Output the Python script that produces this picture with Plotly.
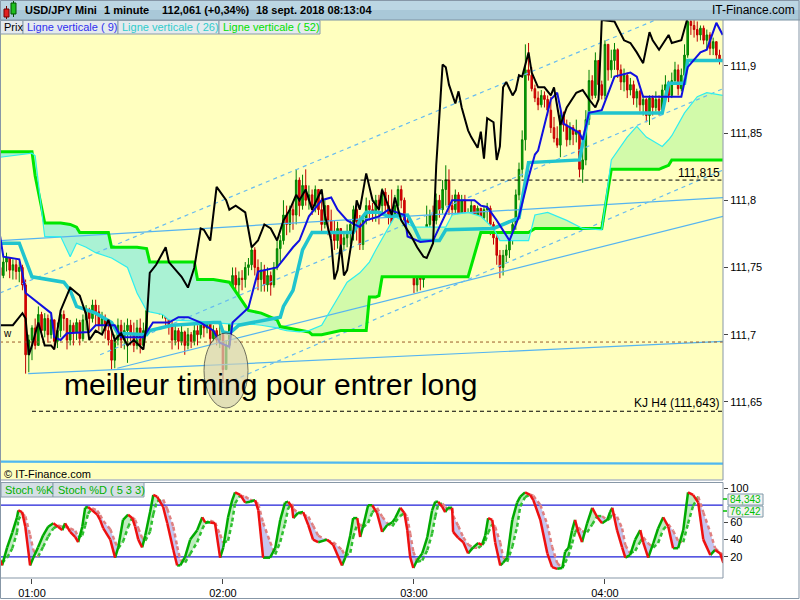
import numpy as np
import pandas as pd
import plotly.graph_objects as go

W, H = 800, 600
T0 = pd.Timestamp("2018-09-18 00:50:00")

# ---------------- data ----------------
# 1-minute candles starting 00:50 (index = minute offset)
OPEN_FIRST = 111.750
CLOSE = [111.744,111.754,111.757,111.748,111.752,111.747,111.750,111.737,111.685,111.696,
111.705,111.692,111.715,111.703,111.712,111.700,111.711,111.695,111.703,111.715,
111.712,111.696,111.707,111.702,111.709,111.697,111.711,111.717,111.712,111.722,
111.717,111.707,111.712,111.703,111.696,111.681,111.696,111.707,111.696,111.703,
111.707,111.700,111.692,111.705,111.692,111.703,111.718,111.729,111.722,111.726,
111.718,111.724,111.712,111.707,111.696,111.703,111.695,111.702,111.692,111.700,
111.695,111.703,111.700,111.711,111.705,111.712,111.697,111.703,111.696,111.700,
111.674,111.692,111.722,111.744,111.737,111.742,111.741,111.750,111.752,111.763,
111.750,111.741,111.748,111.737,111.744,111.737,111.750,111.764,111.770,111.789,
111.782,111.793,111.789,111.815,111.796,111.811,111.800,111.804,111.796,111.808,
111.793,111.782,111.796,111.785,111.776,111.770,111.779,111.767,111.772,111.776,
111.782,111.793,111.784,111.767,111.785,111.796,111.793,111.791,111.800,111.796,
111.806,111.796,111.789,111.782,111.796,111.808,111.800,111.785,111.770,111.752,
111.737,111.748,111.741,111.750,111.782,111.789,111.785,111.800,111.793,111.808,
111.815,111.796,111.793,111.804,111.789,111.800,111.785,111.789,111.796,111.789,
111.794,111.787,111.793,111.794,111.782,111.772,111.759,111.750,111.759,111.763,
111.770,111.782,111.804,111.823,111.845,111.897,111.893,111.883,111.876,111.871,
111.878,111.875,111.867,111.854,111.846,111.841,111.863,111.856,111.845,111.854,
111.849,111.852,111.823,111.830,111.860,111.889,111.878,111.904,111.886,111.878,
111.916,111.897,111.904,111.912,111.897,111.888,111.893,111.882,111.886,111.876,
111.881,111.871,111.875,111.863,111.876,111.869,111.875,111.867,111.882,111.886,
111.878,111.889,111.897,111.883,111.893,111.908,111.933,111.930,111.927,111.923,
111.928,111.919,111.923,111.913,111.918,111.908,111.904]
HIGH = [111.759,111.759,111.761,111.757,111.756,111.756,111.754,111.752,111.741,111.700,
111.707,111.712,111.721,111.717,111.716,111.715,111.715,111.711,111.709,111.718,
111.718,111.712,111.711,111.709,111.712,111.711,111.715,111.722,111.720,111.726,
111.726,111.722,111.717,111.715,111.709,111.707,111.700,111.712,111.711,111.709,
111.712,111.711,111.709,111.711,111.712,111.709,111.726,111.738,111.737,111.731,
111.728,111.729,111.727,111.717,111.711,111.707,111.705,111.707,111.703,111.705,
111.702,111.709,111.707,111.718,111.715,111.718,111.718,111.707,111.705,111.707,
111.703,111.696,111.726,111.750,111.750,111.747,111.748,111.754,111.757,111.767,
111.765,111.756,111.754,111.752,111.750,111.747,111.754,111.770,111.774,111.800,
111.796,111.796,111.798,111.823,111.817,111.819,111.823,111.811,111.808,111.811,
111.808,111.802,111.800,111.796,111.793,111.785,111.784,111.778,111.776,111.782,
111.785,111.796,111.796,111.789,111.789,111.802,111.800,111.798,111.804,111.804,
111.809,111.809,111.804,111.808,111.804,111.811,111.811,111.802,111.787,111.778,
111.759,111.752,111.750,111.752,111.796,111.793,111.796,111.805,111.804,111.815,
111.826,111.823,111.804,111.808,111.806,111.804,111.804,111.794,111.800,111.796,
111.796,111.793,111.796,111.798,111.796,111.784,111.774,111.763,111.763,111.767,
111.774,111.785,111.808,111.828,111.852,111.916,111.917,111.899,111.886,111.881,
111.882,111.881,111.878,111.877,111.862,111.855,111.867,111.866,111.860,111.858,
111.856,111.860,111.849,111.837,111.867,111.897,111.893,111.910,111.901,111.889,
111.919,111.916,111.912,111.917,111.913,111.901,111.898,111.895,111.891,111.889,
111.883,111.882,111.878,111.876,111.878,111.878,111.881,111.878,111.886,111.893,
111.889,111.895,111.903,111.901,111.898,111.916,111.934,111.934,111.934,111.933,
111.930,111.930,111.927,111.925,111.921,111.918,111.912]
LOW = [111.733,111.742,111.747,111.742,111.741,111.741,111.739,111.733,111.671,111.672,
111.681,111.689,111.696,111.698,111.698,111.694,111.697,111.689,111.690,111.698,
111.703,111.689,111.692,111.692,111.696,111.692,111.695,111.703,111.703,111.709,
111.707,111.703,111.700,111.697,111.692,111.674,111.675,111.692,111.690,111.689,
111.679,111.692,111.687,111.689,111.686,111.689,111.700,111.717,111.718,111.717,
111.715,111.712,111.707,111.700,111.689,111.692,111.689,111.692,111.685,111.689,
111.690,111.692,111.692,111.697,111.698,111.701,111.692,111.695,111.692,111.690,
111.664,111.677,111.689,111.720,111.732,111.729,111.733,111.735,111.744,111.748,
111.744,111.733,111.732,111.732,111.732,111.729,111.735,111.748,111.754,111.767,
111.774,111.776,111.778,111.782,111.788,111.793,111.796,111.793,111.789,111.791,
111.789,111.776,111.779,111.774,111.772,111.763,111.764,111.761,111.763,111.765,
111.767,111.770,111.770,111.763,111.763,111.782,111.785,111.784,111.784,111.782,
111.789,111.791,111.782,111.778,111.779,111.789,111.794,111.774,111.763,111.744,
111.731,111.732,111.733,111.735,111.744,111.770,111.776,111.782,111.787,111.790,
111.796,111.789,111.787,111.789,111.782,111.787,111.778,111.778,111.782,111.784,
111.784,111.779,111.782,111.778,111.774,111.767,111.752,111.742,111.744,111.754,
111.757,111.767,111.778,111.800,111.817,111.837,111.889,111.881,111.873,111.867,
111.869,111.869,111.863,111.850,111.843,111.839,111.832,111.851,111.840,111.841,
111.841,111.843,111.817,111.813,111.826,111.856,111.875,111.876,111.878,111.875,
111.875,111.889,111.891,111.897,111.891,111.882,111.881,111.876,111.878,111.871,
111.869,111.866,111.863,111.858,111.856,111.863,111.866,111.863,111.866,111.876,
111.873,111.876,111.886,111.878,111.881,111.889,111.906,111.923,111.921,111.918,
111.919,111.916,111.913,111.908,111.908,111.903,111.901]

# Ichimoku cloud (minute offsets, Senkou A thin cyan, Senkou B green 52)
CLOUD_T = [0,10,11,14,19,22,24,25,27,30,34,35,40,43,46,47,51,53,61,62,
           67,72,78,82,87,88,90,94,97,98,101,107,109,113,115,116,118,119,120,123,
           124,130,140,142,147,151,155,157,166,168,172,178,183,189,192,197,200,203,207,208,
           210,211,215,219,222,227]
SENKOU_B = [111.836,111.836,111.818,111.783,111.783,111.782,111.780,111.776,111.776,111.776,
            111.776,111.765,111.765,111.765,111.764,111.754,111.754,111.754,111.754,111.741,
            111.741,111.739,111.718,111.716,111.711,111.706,111.705,111.703,111.702,111.700,
            111.700,111.703,111.703,111.703,111.703,111.728,111.728,111.729,111.743,111.743,
            111.743,111.743,111.743,111.743,111.743,111.776,111.776,111.776,111.776,111.779,
            111.779,111.779,111.779,111.779,111.823,111.823,111.823,111.823,111.823,111.824,
            111.826,111.830,111.830,111.830,111.830,111.830]
SENKOU_A = [111.832,111.835,111.833,111.773,111.773,111.758,111.768,111.767,111.765,111.761,
            111.758,111.757,111.750,111.731,111.718,111.717,111.715,111.711,111.710,111.710,
            111.709,111.708,111.708,111.707,111.705,111.704,111.703,111.702,111.703,111.704,
            111.707,111.731,111.739,111.746,111.751,111.754,111.763,111.767,111.772,111.784,
            111.788,111.780,111.780,111.789,111.791,111.788,111.779,111.770,111.770,111.789,
            111.791,111.785,111.779,111.778,111.830,111.847,111.855,111.847,111.841,111.840,
            111.845,111.848,111.865,111.877,111.880,111.878]

TENKAN_T = [0,1,6,7,8,16,17,19,21,28,30,36,38,45,48,53,56,59,63,67,
            69,72,73,78,81,87,89,92,94,97,101,104,106,109,113,115,119,122,127,128,
            132,136,138,142,149,151,153,156,160,163,166,168,169,173,175,177,182,183,185,189,
            193,198,200,202,214,216,220,222,225,227]
TENKAN = [111.773,111.758,111.756,111.746,111.731,111.716,111.698,111.696,111.701,111.702,
          111.707,111.707,111.698,111.698,111.709,111.709,111.713,111.713,111.709,111.703,
          111.694,111.691,111.709,111.720,111.747,111.750,111.756,111.765,111.770,111.788,
          111.800,111.802,111.793,111.785,111.780,111.785,111.788,111.793,111.789,111.773,
          111.769,111.770,111.780,111.800,111.800,111.796,111.795,111.785,111.770,111.788,
          111.817,111.834,111.837,111.875,111.880,111.857,111.850,111.845,111.865,111.867,
          111.892,111.895,111.892,111.877,111.877,111.899,111.910,111.912,111.932,111.923]

KIJUN_T = [0,6,10,20,22,24,30,32,35,37,46,47,54,67,69,70,72,75,88,89,
           92,95,98,111,113,115,119,122,128,130,132,138,140,155,161,163,166,182,185,208,
           210,215,216,227]
KIJUN = [111.768,111.768,111.743,111.739,111.733,111.721,111.716,111.713,111.709,111.701,
         111.700,111.703,111.707,111.709,111.709,111.702,111.701,111.707,111.713,111.721,
         111.733,111.763,111.776,111.776,111.785,111.791,111.791,111.788,111.789,111.780,
         111.770,111.770,111.778,111.779,111.785,111.787,111.828,111.830,111.865,111.865,
         111.887,111.887,111.904,111.904]

CHIKOU_T = [0,4,7,8,9,10,12,14,16,17,19,22,25,27,28,30,32,34,36,38,
            40,42,45,46,47,49,52,53,57,59,61,63,64,66,68,71,72,74,77,79,
            81,83,85,87,89,91,93,94,96,98,101,102,104,105,106,107,108,109,111,112,
            113,115,117,119,120,122,123,124,126,129,131,133,134,136,137,138,139,140,141,143,
            144,145,147,148,150,151,152,153,155,156,157,158,159,161,162,163,164,166,167,169,
            171,173,174,176,178,181,183,185,187,188,189,193,196,198,200,202,204,205,207,210,
            211,214,216]
CHIKOU = [111.707,111.707,111.716,111.712,111.685,111.692,111.709,111.692,111.692,111.689,
          111.718,111.735,111.729,111.715,111.696,111.703,111.700,111.711,111.696,111.701,
          111.692,111.696,111.689,111.709,111.746,111.752,111.765,111.754,111.743,111.735,
          111.750,111.779,111.778,111.770,111.810,111.800,111.793,111.796,111.791,111.765,
          111.770,111.782,111.779,111.770,111.785,111.793,111.804,111.800,111.808,111.793,
          111.808,111.789,111.770,111.741,111.748,111.767,111.744,111.748,111.778,111.800,
          111.793,111.820,111.800,111.793,111.808,111.796,111.789,111.802,111.785,111.774,
          111.765,111.758,111.757,111.768,111.826,111.863,111.901,111.899,111.886,111.872,
          111.881,111.869,111.852,111.847,111.839,111.851,111.831,111.861,111.858,111.830,
          111.840,111.884,111.888,111.878,111.882,111.893,111.892,111.910,111.895,111.884,
          111.884,111.878,111.884,111.856,111.869,111.880,111.882,111.875,111.869,111.875,
          111.934,111.933,111.919,111.917,111.910,111.902,111.925,111.919,111.912,111.923,
          111.917,111.919,111.936]

# drawn trend lines: (start minute, start price, end minute, end price)
TREND_SOLID = [(-0.05, 111.770, 227.1, 111.802),
               (8.8, 111.671, 227.1, 111.695),
               (36.8, 111.675, 227.1, 111.788)]
TREND_DASHED = [(-0.05, 111.731, 227.1, 111.955),
                (31.4, 111.685, 227.1, 111.883),
                (73.2, 111.666, 227.1, 111.8225)]
LEVEL_815 = (100, 111.815)
LEVEL_KJH4 = (10, 111.643)
LEVEL_BROWN = (-0.05, 111.6945)
BOTTOM_LINE = (111.6055, 111.604)

# Stochastic %K readings (minute offset, value)
STOCH_T = [0.0,0.6,2.2,3.8,5.3,5.7,6.9,7.9,9.4,10.4,11.9,13.5,15.1,16.7,18.2,19.5,20.4,22.0,23.6,24.5,
25.8,26.7,27.6,28.9,30.5,31.4,32.4,34.6,36.1,37.1,38.6,40.2,41.5,42.4,43.4,44.6,45.6,47.1,48.1,49.3,
51.2,52.5,54.4,55.6,56.6,58.1,59.7,61.9,63.5,64.4,66.0,67.5,69.1,70.1,71.6,72.9,73.8,75.4,77.0,78.5,
80.1,81.1,82.6,84.8,86.4,88.0,89.5,90.5,91.7,92.1,93.6,95.2,96.8,98.3,99.9,102.7,104.6,107.4,108.4,110.0,
110.9,112.2,113.1,114.0,115.6,116.9,118.4,120.0,121.6,123.2,124.1,125.7,127.0,127.9,128.8,129.8,131.0,132.6,134.2,135.7,
136.7,137.6,138.9,139.8,140.7,142.0,142.3,143.9,145.5,147.0,148.6,150.2,151.4,152.4,153.3,154.6,155.5,157.1,158.0,159.3,
160.9,162.4,163.4,164.9,166.5,167.5,169.7,171.9,173.4,175.0,176.6,177.5,178.5,179.7,180.6,181.6,182.8,184.4,186.0,187.6,
189.1,190.7,191.6,192.3,193.8,195.4,196.4,197.9,199.5,201.1,202.0,203.6,205.2,206.7,208.3,209.9,211.4,213.0,214.6,216.1,
217.7,219.3,220.9,223.1,224.6,226.2,227.2]
STOCH_K = [16,10,31,48,66,74,72,55,10,19,31,45,55,59,55,51,59,49,43,37,
55,77,78,74,69,63,53,40,19,31,63,69,65,55,40,31,45,72,92,90,
78,59,28,10,10,20,40,51,66,60,60,59,19,31,66,86,95,92,83,84,
86,74,19,19,30,63,83,84,78,65,71,72,57,40,37,40,34,10,19,45,
65,65,43,55,80,80,71,49,57,60,65,77,71,51,20,7,16,24,43,74,
84,84,78,72,77,77,49,42,37,24,31,36,34,45,65,63,37,10,13,19,
63,83,90,95,92,86,63,24,8,6,7,26,30,51,63,49,37,59,77,66,
59,63,72,77,51,31,19,22,40,51,37,19,36,53,66,55,30,30,51,95,
92,83,40,22,28,24,13]
STOCH_LEVELS = [20, 80]

MAIN_TICKS = [111.65, 111.70, 111.75, 111.80, 111.85, 111.90]
MAIN_TICKTEXT = ["111,65", "111,7", "111,75", "111,8", "111,85", "111,9"]
STOCH_TICKS = [20, 40, 60, 100]
TIME_TICKS = [10, 70, 130, 190]
TIME_TEXT = ["01:00", "02:00", "03:00", "04:00"]

# ---------------- helpers ----------------
FONT = "Liberation Sans, Arial, sans-serif"


def tm(m):
    return (T0 + pd.to_timedelta(float(m), unit="min")).to_pydatetime()


def px(x):
    return x / W


def py(y):
    return 1 - y / H


def band_polys(ts, a, b):
    ux, uy, dx, dy = [], [], [], []
    for i in range(len(ts) - 1):
        xs = [tm(ts[i]), tm(ts[i + 1]), tm(ts[i + 1]), tm(ts[i]), tm(ts[i]), None]
        ys = [a[i], a[i + 1], b[i + 1], b[i], a[i], None]
        if a[i] + a[i + 1] >= b[i] + b[i + 1]:
            ux += xs; uy += ys
        else:
            dx += xs; dy += ys
    return ux, uy, dx, dy


def split_dir(ts, v):
    ux, uy, dx, dy = [], [], [], []
    for i in range(len(ts) - 1):
        sx = [tm(ts[i]), tm(ts[i + 1]), None]
        sy = [v[i], v[i + 1], None]
        if v[i + 1] >= v[i]:
            ux += sx; uy += sy
        else:
            dx += sx; dy += sy
    return ux, uy, dx, dy


XR = [tm(-0.05), tm(227.09)]

fig = go.Figure()

# cloud
ux, uy, dx, dy = band_polys(CLOUD_T, SENKOU_A, SENKOU_B)
fig.add_trace(go.Scatter(x=ux, y=uy, mode="lines", fill="toself", fillcolor="#D2FAAA",
                         line=dict(width=0), hoverinfo="skip", xaxis="x", yaxis="y"))
fig.add_trace(go.Scatter(x=dx, y=dy, mode="lines", fill="toself", fillcolor="#AAF2D4",
                         line=dict(width=0), hoverinfo="skip", xaxis="x", yaxis="y"))

# trend lines
for (a0, p0, a1, p1) in TREND_SOLID:
    fig.add_trace(go.Scatter(x=[tm(a0), tm(a1)], y=[p0, p1], mode="lines",
                             line=dict(color="#55B4F0", width=1.2), hoverinfo="skip"))
for (a0, p0, a1, p1) in TREND_DASHED:
    fig.add_trace(go.Scatter(x=[tm(a0), tm(a1)], y=[p0, p1], mode="lines",
                             line=dict(color="#66BBF0", width=1.2, dash="4px,4px"), hoverinfo="skip"))
fig.add_trace(go.Scatter(x=[tm(LEVEL_815[0]), tm(227.1)], y=[LEVEL_815[1]] * 2, mode="lines",
                         line=dict(color="#000000", width=1, dash="4px,3px"), hoverinfo="skip"))
fig.add_trace(go.Scatter(x=[tm(LEVEL_KJH4[0]), tm(227.1)], y=[LEVEL_KJH4[1]] * 2, mode="lines",
                         line=dict(color="#000000", width=1, dash="4px,3px"), hoverinfo="skip"))
fig.add_trace(go.Scatter(x=[tm(LEVEL_BROWN[0]), tm(227.1)], y=[LEVEL_BROWN[1]] * 2, mode="lines",
                         line=dict(color="#9A5A2A", width=1, dash="3px,3px"), hoverinfo="skip"))
fig.add_trace(go.Scatter(x=[tm(-0.05), tm(227.1)], y=list(BOTTOM_LINE), mode="lines",
                         line=dict(color="#4FB8F0", width=2.2), hoverinfo="skip"))

# candles
mins = list(range(len(CLOSE)))
opens = [OPEN_FIRST] + CLOSE[:-1]
highs = [max(h, o, c) for h, o, c in zip(HIGH, opens, CLOSE)]
lows = [min(l, o, c) for l, o, c in zip(LOW, opens, CLOSE)]
fig.add_trace(go.Candlestick(
    x=[tm(m) for m in mins], open=opens, high=highs, low=lows, close=CLOSE,
    increasing=dict(line=dict(color="#008000", width=1), fillcolor="#00A800"),
    decreasing=dict(line=dict(color="#C00000", width=1), fillcolor="#E80000"),
    whiskerwidth=0, hoverinfo="skip", xaxis="x", yaxis="y"))

# ichimoku lines
fig.add_trace(go.Scatter(x=[tm(m) for m in CLOUD_T], y=SENKOU_B, mode="lines",
                         line=dict(color="#00E600", width=3), hoverinfo="skip"))
fig.add_trace(go.Scatter(x=[tm(m) for m in CLOUD_T], y=SENKOU_A, mode="lines",
                         line=dict(color="#30EEEE", width=1.2), hoverinfo="skip"))
fig.add_trace(go.Scatter(x=[tm(m) for m in KIJUN_T], y=KIJUN, mode="lines",
                         line=dict(color="#20C4CE", width=3.5), hoverinfo="skip"))
fig.add_trace(go.Scatter(x=[tm(m) for m in TENKAN_T], y=TENKAN, mode="lines",
                         line=dict(color="#1010E0", width=2), hoverinfo="skip"))
fig.add_trace(go.Scatter(x=[tm(m) for m in CHIKOU_T], y=CHIKOU, mode="lines",
                         line=dict(color="#000000", width=2), hoverinfo="skip"))

# stochastic
STOCH_D = list(pd.Series(STOCH_K, dtype=float).rolling(3, min_periods=1).mean())
ux, uy, dx, dy = band_polys(STOCH_T, STOCH_K, STOCH_D)
fig.add_trace(go.Scatter(x=ux, y=uy, mode="lines", fill="toself", fillcolor="rgba(140,220,140,0.55)",
                         line=dict(width=0), hoverinfo="skip", xaxis="x2", yaxis="y2"))
fig.add_trace(go.Scatter(x=dx, y=dy, mode="lines", fill="toself", fillcolor="rgba(150,150,225,0.55)",
                         line=dict(width=0), hoverinfo="skip", xaxis="x2", yaxis="y2"))
for lv in STOCH_LEVELS:
    fig.add_trace(go.Scatter(x=XR, y=[lv, lv], mode="lines", line=dict(color="#2020D8", width=1.3),
                             hoverinfo="skip", xaxis="x2", yaxis="y2"))
ux, uy, dx, dy = split_dir(STOCH_T, STOCH_D)
fig.add_trace(go.Scatter(x=ux, y=uy, mode="lines", line=dict(color="#30C030", width=2.5, dash="4px,3px"),
                         hoverinfo="skip", xaxis="x2", yaxis="y2"))
fig.add_trace(go.Scatter(x=dx, y=dy, mode="lines", line=dict(color="#E08080", width=2.5, dash="4px,3px"),
                         hoverinfo="skip", xaxis="x2", yaxis="y2"))
ux, uy, dx, dy = split_dir(STOCH_T, STOCH_K)
fig.add_trace(go.Scatter(x=ux, y=uy, mode="lines", line=dict(color="#00AA00", width=2.5),
                         hoverinfo="skip", xaxis="x2", yaxis="y2"))
fig.add_trace(go.Scatter(x=dx, y=dy, mode="lines", line=dict(color="#EE1010", width=2.5),
                         hoverinfo="skip", xaxis="x2", yaxis="y2"))

# ---------------- layout ----------------
XD = [0, px(723)]
fig.update_layout(
    width=W, height=H, autosize=False, margin=dict(l=0, r=0, t=0, b=0),
    paper_bgcolor="white", plot_bgcolor="rgba(0,0,0,0)", showlegend=False,
    font=dict(family=FONT, size=11, color="#000000"),
    xaxis=dict(domain=XD, anchor="y", range=XR, type="date", showticklabels=False,
               showgrid=False, zeroline=False, ticks="", rangeslider=dict(visible=False)),
    yaxis=dict(domain=[py(479), py(20)], anchor="x", side="right",
               range=[111.5926, 111.9341], tickvals=MAIN_TICKS, ticktext=MAIN_TICKTEXT,
               ticks="outside", ticklen=4, tickcolor="#444", showgrid=False, zeroline=False,
               tickfont=dict(size=11, family=FONT, color="#000")),
    xaxis2=dict(domain=XD, anchor="y2", range=XR, type="date", showgrid=False, zeroline=False,
                tickvals=[tm(m) for m in TIME_TICKS], ticktext=TIME_TEXT, ticks="outside",
                ticklen=5, tickcolor="#444", tickfont=dict(size=11, family=FONT, color="#000")),
    yaxis2=dict(domain=[py(578), py(482)], anchor="x2", side="right", range=[-4.65, 107.0],
                tickvals=STOCH_TICKS, ticktext=[str(v) for v in STOCH_TICKS], ticks="outside",
                ticklen=4, tickcolor="#444", showgrid=False, zeroline=False,
                tickfont=dict(size=11, family=FONT, color="#000")),
)

GRAY = "#8797A7"
shapes = []
def rect(x0, y0, x1, y1, fill=None, line=None, lw=1, layer="above", opacity=1):
    d = dict(type="rect", xref="paper", yref="paper", x0=px(x0), x1=px(x1), y0=py(y1), y1=py(y0),
             layer=layer, opacity=opacity, line=dict(width=lw if line else 0, color=line or "rgba(0,0,0,0)"))
    if fill:
        d["fillcolor"] = fill
    shapes.append(d)

def hline(x0, x1, y, color=GRAY, lw=1):
    shapes.append(dict(type="line", xref="paper", yref="paper", x0=px(x0), x1=px(x1), y0=py(y), y1=py(y),
                       line=dict(color=color, width=lw), layer="above"))

def vline(x, y0, y1, color=GRAY, lw=1):
    shapes.append(dict(type="line", xref="paper", yref="paper", x0=px(x), x1=px(x), y0=py(y0), y1=py(y1),
                       line=dict(color=color, width=lw), layer="above"))

# backgrounds
rect(0, 20, 723, 479.5, fill="#FFFFBF", layer="below")
rect(0, 0, 800, 10, fill="#BCD6E3", layer="above")
rect(0, 10, 800, 20, fill="#A9C8D8", layer="above")
hline(0, 800, 20, color="#7D93A3")
hline(0, 723, 480, color=GRAY)
rect(0.5, 482.5, 723, 578, line=GRAY, layer="above")
vline(723, 20, 480)
rect(0.5, 0.5, 799, 598.5, line=GRAY, layer="above")

# header icon
vline(6.5, 6, 19, color="#700000")
rect(4, 9, 9, 17, fill="#E02020", line="#700000")
vline(13.5, 1, 17, color="#005000")
rect(11, 3, 16, 14, fill="#20C020", line="#005000")

# legend boxes
rect(0.5, 20.5, 23, 34, fill="#E4EAEE", line="#8A9CAA")
rect(23, 20.5, 118, 34, fill="#E4EAEE", line="#8A9CAA")
rect(118, 20.5, 219, 34, fill="#E4EAEE", line="#8A9CAA")
rect(219, 20.5, 320, 34, fill="#E4EAEE", line="#8A9CAA")
rect(1, 482.5, 53, 497, fill="#D5DFE5", line="#8A9CAA")
rect(53, 482.5, 144, 497, fill="#D5DFE5", line="#8A9CAA")

# stoch value boxes
rect(728, 494, 763, 505, fill="#F2F2F2", line="#7F98A8")
rect(728, 506, 763, 517, fill="#F2F2F2", line="#7F98A8")
hline(723, 727, 499, color="#00C000", lw=1.5)
hline(723, 727, 511, color="#00C000", lw=1.5)

# ellipse
shapes.append(dict(type="circle", xref="paper", yref="paper", x0=px(204), x1=px(248), y0=py(408), y1=py(333),
                   fillcolor="#D6D3B4", opacity=0.7, line=dict(color="#333333", width=1), layer="above"))

fig.update_layout(shapes=shapes)

ann = []
def text(x, y, s, size=11, color="#000", anchor="left", bold=False, family=FONT):
    ann.append(dict(xref="paper", yref="paper", x=px(x), y=py(y), text=("<b>%s</b>" % s) if bold else s,
                    showarrow=False, xanchor=anchor, yanchor="middle",
                    font=dict(size=size, color=color, family=family)))

text(23, 10.5, "USD/JPY Mini", 11, bold=True)
text(102, 10.5, "1 minute", 11, bold=True)
text(160, 10.5, "112,061 (+0,34%)", 11, bold=True)
text(254, 10.5, "18 sept. 2018 08:13:04", 11, bold=True)
text(797, 10.5, "IT-Finance.com", 12, anchor="right")
text(2, 27.5, "Prix", 11)
text(25, 27.5, "Ligne verticale ( 9)", 11, color="#3030F0")
text(120, 27.5, "Ligne verticale ( 26)", 11, color="#30CCCC")
text(221, 27.5, "Ligne verticale ( 52)", 11, color="#00E000")
text(722, 172.5, "111,815", 12, anchor="right")
text(722, 403, "KJ H4 (111,643)", 12, anchor="right")
text(1, 333, "w", 10)
text(62, 384, "meilleur timing pour entrer long", 30)
text(2, 474, "© IT-Finance.com", 11)
text(3, 490, "Stoch %K", 11, color="#00B000")
text(56, 490, "Stoch %D ( 5 3 3)", 11, color="#00B000")
text(745.5, 499.5, "84,343", 10, color="#00C000", anchor="center")
text(745.5, 511.5, "76,242", 10, color="#00C000", anchor="center")
fig.update_layout(annotations=ann)

fig.write_html("out.html", config={"displayModeBar": False},
               post_script="document.body.style.margin='0px';document.body.style.padding='0px';")
